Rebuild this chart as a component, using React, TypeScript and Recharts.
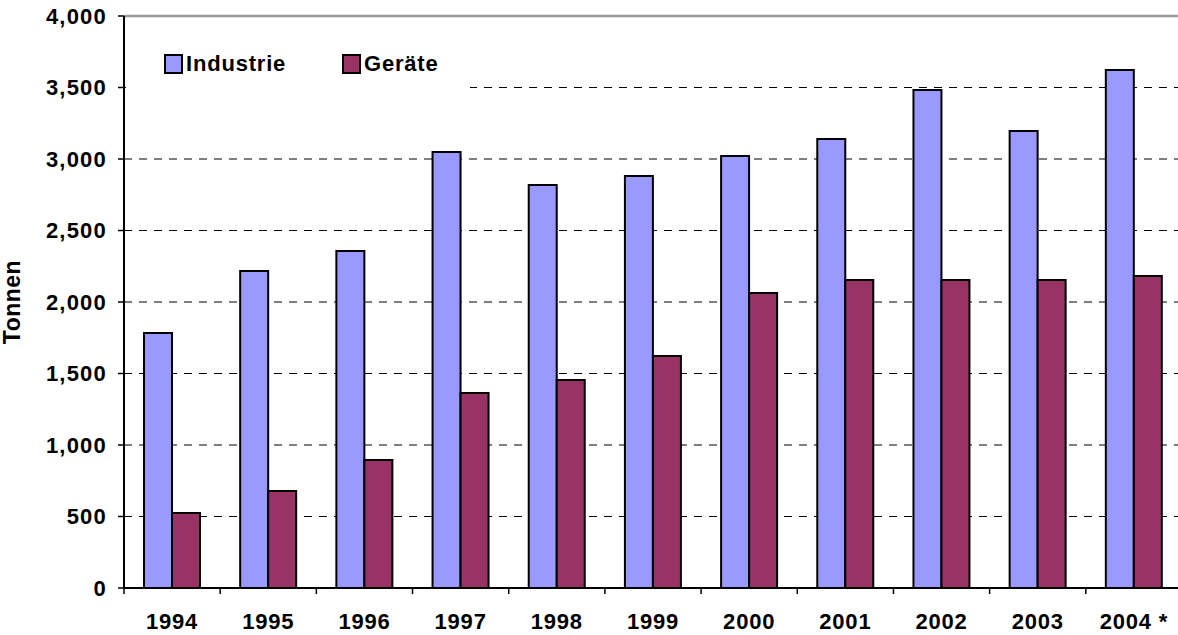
import { BarChart, Bar, XAxis, YAxis, CartesianGrid, Legend, ReferenceLine } from 'recharts'

const years = ['1994', '1995', '1996', '1997', '1998', '1999', '2000', '2001', '2002', '2003', '2004 *']
const industrie = [1783, 2217, 2357, 3049, 2818, 2881, 3021, 3140, 3483, 3196, 3622]
const geraete = [524, 678, 895, 1364, 1455, 1622, 2063, 2154, 2154, 2154, 2182]
const yTicks = [0, 500, 1000, 1500, 2000, 2500, 3000, 3500, 4000]

const data = years.map((year, i) => ({ year, industrie: industrie[i], geraete: geraete[i] }))

const FONT = '"Liberation Sans", Arial, sans-serif'
const CHART_W = 1186
const Y_AXIS_W = 124
const MARGIN_RIGHT = 4
const HALF_BAND = (CHART_W - Y_AXIS_W - MARGIN_RIGHT) / years.length / 2

const fmt = (v: number) => v.toLocaleString('en-US')

function YearTick({ x, y, payload, index }: { x?: number; y?: number; payload?: { value: string }; index?: number }) {
  const cx = x ?? 0
  const cy = y ?? 0
  return (
    <g>
      {index === 0 && <line x1={cx - HALF_BAND} y1={cy} x2={cx - HALF_BAND} y2={cy + 6} stroke="#000" strokeWidth={1.5} />}
      <line x1={cx + HALF_BAND} y1={cy} x2={cx + HALF_BAND} y2={cy + 6} stroke="#000" strokeWidth={1.5} />
      <text x={cx} y={cy + 41} textAnchor="middle" fill="#000" fontFamily={FONT} fontWeight="bold" fontSize={22} letterSpacing={0.8}>
        {payload?.value}
      </text>
    </g>
  )
}

function LegendBox() {
  const items = [
    { label: 'Industrie', color: '#9999FF', width: 178 },
    { label: 'Geräte', color: '#993366', width: 120 },
  ]
  return (
    <div style={{ display: 'flex', alignItems: 'center', height: 55, background: '#fff', paddingLeft: 38 }}>
      {items.map(it => (
        <div key={it.label} style={{ display: 'flex', alignItems: 'center', width: it.width }}>
          <span style={{ width: 15, height: 16, background: it.color, border: '2px solid #000', marginRight: 3 }} />
          <span style={{ fontFamily: FONT, fontWeight: 'bold', fontSize: 22, letterSpacing: 0.8, color: '#000' }}>{it.label}</span>
        </div>
      ))}
    </div>
  )
}

export default function App() {
  return (
    <div style={{ position: 'absolute', left: 0, top: 0, width: 1178, height: 635, overflow: 'hidden', background: '#fff' }}>
      <BarChart
        width={CHART_W}
        height={635}
        data={data}
        barCategoryGap={20}
        barGap={0}
        margin={{ top: 16, right: MARGIN_RIGHT, bottom: 0, left: 0 }}
      >
        <CartesianGrid vertical={false} stroke="#000" strokeWidth={1.2} strokeDasharray="8 7" />
        <XAxis
          dataKey="year"
          height={47}
          tickSize={0}
          tickMargin={0}
          axisLine={{ stroke: '#000', strokeWidth: 2 }}
          tickLine={false}
          tick={<YearTick />}
          interval={0}
        />
        <YAxis
          width={Y_AXIS_W}
          domain={[0, 4000]}
          ticks={yTicks}
          tickFormatter={fmt}
          tickSize={6}
          tickMargin={11}
          axisLine={{ stroke: '#000', strokeWidth: 2 }}
          tickLine={{ stroke: '#000', strokeWidth: 1.5 }}
          tick={{ fill: '#000', fontFamily: FONT, fontWeight: 'bold', fontSize: 22, letterSpacing: 1.2 }}
          label={{ value: 'Tonnen', angle: -90, position: 'insideLeft', offset: 12, fill: '#000', fontFamily: FONT, fontWeight: 'bold', fontSize: 23, letterSpacing: 0.5, style: { textAnchor: 'middle' } }}
        />
        <ReferenceLine y={4000} stroke="#999" strokeWidth={2.5} />
        <Legend
          verticalAlign="middle"
          align="center"
          content={<LegendBox />}
          wrapperStyle={{ top: 36, left: 126, width: 344, height: 55 }}
        />
        <Bar dataKey="industrie" name="Industrie" fill="#9999FF" stroke="#000" strokeWidth={2} isAnimationActive={false} />
        <Bar dataKey="geraete" name="Geräte" fill="#993366" stroke="#000" strokeWidth={2} isAnimationActive={false} />
      </BarChart>
    </div>
  )
}
